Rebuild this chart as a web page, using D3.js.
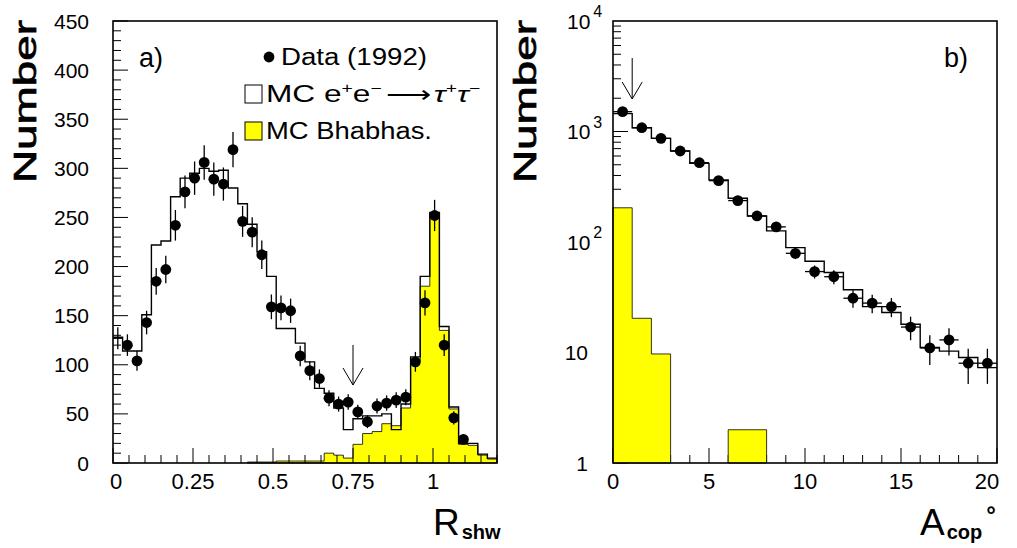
<!DOCTYPE html>
<html><head><meta charset="utf-8">
<script src="https://cdn.jsdelivr.net/npm/d3@7"></script>
<style>
body{margin:0;background:#fff}
svg text{font-family:"Liberation Sans",Arial,sans-serif;fill:#000}
</style>
</head><body>
<svg id="c" width="1017" height="548"></svg>
<script>
// ---------- DATA ----------
// Panel a: R_shw, 40 bins from 0 to 1.2
const rshwRange = [0, 1.2];
const rshwNBins = 40;
const rshwData = [127,120,104,143,185,197,242,276,290,306,289,284,319,246,235,212,159,158,155,109,94,86,66,60,62,52,42,58,61,64,67,103,163,252,120,46,24,null,null,null];
const rshwErr  = [11.3,11,10.2,12,13.6,14,15.6,16.6,17,17.5,17,16.9,17.9,15.7,15.3,14.6,12.6,12.6,12.4,10.4,9.7,9.3,8.1,7.7,7.9,7.2,6.5,7.6,7.8,8,8.2,10.1,12.8,15.9,11,6.8,4.9,null,null,null];
const rshwMC   = [128,114,114,151,222,226,271,290,295,300,297,298,280,264,243,215,190,137,137,122,103,76,71,56,34,45,48,48,50,34,60,108,190,255,139,57,20,20,9,5];
const rshwBhabha = [0,0,0,0,0,0,0,0,0,0,0,0,0,0,1,1,1,2,2,2,2,2,10,8,5,19,30,32,40,38,56,104,180,250,135,55,19,18,8,4];
const rshwTicks = [0,0.25,0.5,0.75,1];
const rshwTickLabels = ["0","0.25","0.5","0.75","1"];
const rshwYTicks = [0,50,100,150,200,250,300,350,400,450];
const rshwCut = 0.75;

// Panel b: A_cop (degrees), 20 bins from 0 to 20
const acopRange = [0, 20];
const acopNBins = 20;
const acopData = [1511,1082,867,666,522,359,237,172,137,79,54,48.5,31,28,26,17,11,13,8,8];
const acopErr  = [38.9,32.9,29.4,25.8,22.8,18.9,15.4,13.1,11.7,8.9,7.3,7,5.6,5.3,5.1,4.1,3.3,3.6,2.8,2.8];
const acopMC   = [1450,1082,867,666,515,364,249,172,126,89,67,53,37,26,23,18,11.1,10.3,9.0,7.3];
const acopBhabha = [204,20.4,9.7,0,0,0,2,2,0,0,0,0,0,0,0,0,0,0,0,0];
const acopXTicks = [0,5,10,15,20];
const acopYDecades = [1,10,100,1000,10000];
const acopYLabels = [["1",""],["10",""],["10","2"],["10","3"],["10","4"]];
const acopCut = 1;

// ---------- DRAW ----------
const svg = d3.select("#c");
const plotTop = 21, plotBottom = 463;

function binPoints(values, range, n){
  const w = (range[1]-range[0])/n;
  const pts = [];
  values.forEach((v,i)=>{
    const a = range[0]+i*w, b = a+w;
    pts.push({x:a, v:v}); pts.push({x:b, v:v});
  });
  return pts;
}

function panel(opts){
  const g = svg.append("g");
  const {x, y} = opts;
  const w = (opts.range[1]-opts.range[0])/opts.n;

  const ypts = binPoints(opts.bhabha, opts.range, opts.n);
  const base = opts.log ? y.range()[0] : y(0);
  const area = d3.area().defined(d=>d.v>0).x(d=>x(d.x)).y0(base).y1(d=>y(d.v));
  if(opts.ticksOver){
    g.append("path").attr("d", area(ypts)).attr("fill","#ffff00").attr("stroke","#000").attr("stroke-width",0.8);
  }
  opts.drawTicks(g);
  if(!opts.ticksOver){
    g.append("path").attr("d", area(ypts)).attr("fill","#ffff00").attr("stroke","#000").attr("stroke-width",0.8);
  }

  const mpts = binPoints(opts.mc, opts.range, opts.n);
  const line = d3.line().x(d=>x(d.x)).y(d=>y(d.v));
  g.append("path").attr("d", line(mpts)).attr("fill","none").attr("stroke","#000").attr("stroke-width",1.4);

  opts.data.forEach((v,i)=>{
    if(v==null) return;
    const cx = x(opts.range[0]+(i+0.5)*w);
    const e = opts.err[i];
    g.append("line").attr("x1",cx).attr("x2",cx)
      .attr("y1",y(v+e)).attr("y2",y(Math.max(v-e, opts.log?1:0)))
      .attr("stroke","#000").attr("stroke-width",1.3);
    g.append("line").attr("x1",x(opts.range[0]+i*w)).attr("x2",x(opts.range[0]+(i+1)*w))
      .attr("y1",y(v)).attr("y2",y(v)).attr("stroke","#000").attr("stroke-width",1.3);
    if(!(opts.skipFirstMarker && i===0))
      g.append("circle").attr("cx",cx).attr("cy",y(v)).attr("r",5.4).attr("fill","#000");
  });

  const ax = x(opts.cut);
  const ay1 = opts.arrowY[0], ay2 = opts.arrowY[1];
  g.append("path").attr("d",`M${ax},${ay1}L${ax},${ay2}M${ax-10},${ay2-17}L${ax},${ay2}L${ax+10},${ay2-17}`)
    .attr("fill","none").attr("stroke","#000").attr("stroke-width",1);

  g.append("rect").attr("x",x.range()[0]).attr("y",plotTop)
    .attr("width",x.range()[1]-x.range()[0]).attr("height",plotBottom-plotTop)
    .attr("fill","none").attr("stroke","#000").attr("stroke-width",1.6);
  return g;
}

// ----- panel a -----
const xa = d3.scaleLinear().domain(rshwRange).range([113,497]);
const ya = d3.scaleLinear().domain([0,450]).range([plotBottom,plotTop]);
panel({
  x:xa, y:ya, range:rshwRange, n:rshwNBins, data:rshwData, err:rshwErr, mc:rshwMC, bhabha:rshwBhabha,
  log:false, ticksOver:true, skipFirstMarker:true, cut:rshwCut, arrowY:[345,385],
  drawTicks:(g)=>{
    d3.range(0, 1.2001, 0.05).forEach((t,i)=>{
      const major = (i%5===0);
      g.append("line").attr("x1",xa(t)).attr("x2",xa(t)).attr("y1",plotBottom).attr("y2",plotBottom-(major?15:8))
        .attr("stroke","#000").attr("stroke-width",1);
    });
    d3.range(0,451,10).forEach(t=>{
      const major = (t%50===0);
      g.append("line").attr("x1",113).attr("x2",113+(major?15:8)).attr("y1",ya(t)).attr("y2",ya(t))
        .attr("stroke","#000").attr("stroke-width",1);
    });
  }
});
svg.append("g").selectAll("text").data(rshwTicks).join("text")
  .attr("x",(d,i)=>xa(d)+ (i===0?3:0)).attr("y",489).attr("text-anchor","middle")
  .attr("font-size",22).text((d,i)=>rshwTickLabels[i]);
svg.append("g").selectAll("text").data(rshwYTicks).join("text")
  .attr("x",89).attr("y",d=>ya(d)+7.5).attr("text-anchor","end")
  .attr("font-size",21).text(d=>d);

// ----- panel b -----
const xb = d3.scaleLinear().domain(acopRange).range([613,997]);
const yb = d3.scaleLog().domain([1,1e4]).range([plotBottom,plotTop]);
panel({
  x:xb, y:yb, range:acopRange, n:acopNBins, data:acopData, err:acopErr, mc:acopMC, bhabha:acopBhabha,
  log:true, ticksOver:false, skipFirstMarker:false, cut:acopCut, arrowY:[58,99],
  drawTicks:(g)=>{
    d3.range(0,20.001,1).forEach(t=>{
      const major = (t%5===0);
      g.append("line").attr("x1",xb(t)).attr("x2",xb(t)).attr("y1",plotBottom).attr("y2",plotBottom-(major?15:8))
        .attr("stroke","#000").attr("stroke-width",1);
    });
    [1,10,100,1000].forEach(d=>{
      d3.range(1,10).forEach(m=>{
        const v = d*m;
        g.append("line").attr("x1",613).attr("x2",613+(m===1?15:8)).attr("y1",yb(v)).attr("y2",yb(v))
          .attr("stroke","#000").attr("stroke-width",1);
      });
    });
  }
});
svg.append("g").selectAll("text").data(acopXTicks).join("text")
  .attr("x",(d,i)=>xb(d) - (i===acopXTicks.length-1?10:0)).attr("y",489).attr("text-anchor","middle")
  .attr("font-size",22).text(d=>d);
acopYDecades.forEach((d,i)=>{
  const [b,s] = acopYLabels[i];
  const t = svg.append("text").attr("x",567).attr("y",yb(d)+7.5).attr("font-size",21);
  if(!s){ t.attr("x",588).attr("text-anchor","end").text(b); }
  else {
    t.append("tspan").text(b);
    t.append("tspan").attr("font-size",16).attr("dx",3).attr("dy",-11.5).text(s);
  }
});

// ----- titles -----
function yTitle(cx){
  svg.append("text").attr("transform",`translate(${cx},101.5) rotate(-90)`)
    .attr("text-anchor","middle").attr("font-size",31)
    .attr("stroke","#000").attr("stroke-width",0.7)
    .attr("textLength",163).attr("lengthAdjust","spacingAndGlyphs").text("Number");
}
yTitle(36); yTitle(536);

function xTitle(x0, main, sub, deg){
  const t = svg.append("text").attr("x",x0).attr("y",535).attr("font-size",37);
  t.append("tspan").text(main);
  t.append("tspan").attr("font-size",20).attr("font-weight","bold").attr("dx",2).attr("dy",4).text(sub);
  if(deg) t.append("tspan").attr("font-size",24).attr("font-weight","bold").attr("dx",4).attr("dy",-16).text("°");
}
xTitle(433, "R", "shw", false);
xTitle(920, "A", "cop", true);

svg.append("text").attr("x",139).attr("y",67).attr("font-size",27).text("a)");
svg.append("text").attr("x",944).attr("y",67).attr("font-size",27).text("b)");

// ----- legend -----
svg.append("circle").attr("cx",269).attr("cy",57).attr("r",5.4).attr("fill","#000");
svg.append("text").attr("x",281).attr("y",65).attr("font-size",23)
  .attr("textLength",146).attr("lengthAdjust","spacingAndGlyphs").text("Data (1992)");
svg.append("rect").attr("x",245).attr("y",85).attr("width",17).attr("height",18).attr("fill","#fff").attr("stroke","#000").attr("stroke-width",1);
const l2 = svg.append("text").attr("x",266).attr("y",102).attr("font-size",23)
  .attr("textLength",214).attr("lengthAdjust","spacingAndGlyphs");
l2.append("tspan").text("MC e");
l2.append("tspan").attr("font-size",14).attr("dy",-9).text("+");
l2.append("tspan").attr("dy",9).text("e");
l2.append("tspan").attr("font-size",14).attr("dy",-9).text("−");
l2.append("tspan").attr("dy",9).attr("dx",3).text("⟶");
l2.append("tspan").attr("font-style","italic").attr("dx",2).text("τ");
l2.append("tspan").attr("font-size",14).attr("dy",-9).text("+");
l2.append("tspan").attr("font-style","italic").attr("dy",9).text("τ");
l2.append("tspan").attr("font-size",14).attr("dy",-9).text("−");
svg.append("rect").attr("x",245).attr("y",122).attr("width",17).attr("height",18).attr("fill","#ffff00").attr("stroke","#000").attr("stroke-width",1);
svg.append("text").attr("x",266).attr("y",139).attr("font-size",23)
  .attr("textLength",166).attr("lengthAdjust","spacingAndGlyphs").text("MC Bhabhas.");
</script>
</body></html>
